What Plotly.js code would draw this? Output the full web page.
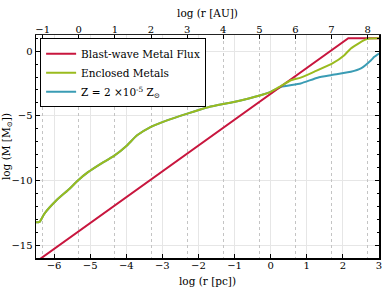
<!DOCTYPE html>
<html><head><meta charset="utf-8">
<script src="https://cdn.plot.ly/plotly-3.0.1.min.js"></script>
<style>html,body{margin:0;padding:0;background:#fff}</style>
</head><body><div id="c" style="width:390px;height:293px"></div>
<script>
var redX = [-6.5, 2.15, 3.05];
var redY = [-16.3, 1.0, 1.0];
var greenX = [-6.5, -6.4, -6.27, -5.94, -5.57, -5.34, -5.06, -4.73, -4.34, -3.98, -3.7, -3.33, -2.87, -2.31, -1.71, -1.02, -0.28, 0.0, 0.28, 0.56, 0.83, 1.2, 1.71, 2.04, 2.22, 2.59, 2.73, 3.05];
var greenY = [-13.23, -13.2, -12.58, -11.55, -10.64, -10.0, -9.36, -8.75, -8.1, -7.29, -6.51, -5.87, -5.35, -4.83, -4.32, -3.93, -3.41, -3.15, -2.7, -2.25, -2.05, -1.6, -0.95, -0.31, 0.21, 0.85, 0.98, 1.0];
var blueX = [-6.5, -6.4, -6.27, -5.94, -5.57, -5.34, -5.06, -4.73, -4.34, -3.98, -3.7, -3.33, -2.87, -2.31, -1.71, -1.02, -0.28, 0.0, 0.28, 0.83, 1.3, 1.67, 2.22, 2.5, 2.78, 2.87, 3.0];
var blueY = [-13.23, -13.2, -12.58, -11.55, -10.64, -10.0, -9.36, -8.75, -8.1, -7.29, -6.51, -5.87, -5.35, -4.83, -4.32, -3.93, -3.41, -3.15, -2.77, -2.5, -2.05, -1.86, -1.6, -1.34, -0.7, -0.44, -0.18];
var pcTicks = [-6, -5, -4, -3, -2, -1, 0, 1, 2, 3];
var auTicks = [-1, 0, 1, 2, 3, 4, 5, 6, 7, 8];
var yTicks = [0, -5, -10, -15];
var auOffset = 5.3144; // log10(206265)
var names = ['Blast-wave Metal Flux', 'Enclosed Metals', 'Z = 2 \u00d710<sup>-5</sup> Z<sub>\u2299</sub>'];

var F = 'DejaVu Serif';
var ln = {shape: 'spline', smoothing: 0.5, width: 2};
var hidden = {mode: 'lines', showlegend: false, hoverinfo: 'skip', line: {width: 0, color: 'rgba(0,0,0,0)'}};
var data = [
  {x: blueX, y: blueY, mode: 'lines', name: names[2], legendrank: 3, line: Object.assign({color: '#3a9cb4'}, ln)},
  {x: redX, y: redY, mode: 'lines', name: names[0], legendrank: 1, line: {color: '#c8163e', width: 2}},
  {x: greenX, y: greenY, mode: 'lines', name: names[1], legendrank: 2, line: Object.assign({color: '#9abb1e'}, ln)},
  Object.assign({x: [auTicks[0], auTicks[auTicks.length-1]], y: [0, 0], xaxis: 'x2'}, hidden),
  Object.assign({x: [auTicks[0], auTicks[auTicks.length-1]], y: [0, 0], xaxis: 'x3'}, hidden)
];
var xr = [-6.5, 3.0];
var auR = [xr[0] + auOffset, xr[1] + auOffset];
var layout = {
  width: 390, height: 293,
  margin: {l: 36, r: 11, t: 35, b: 35},
  paper_bgcolor: '#fff', plot_bgcolor: '#fff',
  font: {family: F, size: 10, color: '#000'},
  showlegend: true,
  legend: {x: 0.012, y: 0.985, xanchor: 'left', yanchor: 'top', bgcolor: '#fff', bordercolor: '#000', borderwidth: 1,
           font: {family: F, size: 10.5, color: '#000'}, traceorder: 'normal', tracegroupgap: 0, itemwidth: 30},
  xaxis: {range: xr, tickvals: pcTicks, ticks: 'inside', ticklen: 4, tickcolor: '#000', showgrid: true, gridcolor: '#e6e6e6', gridwidth: 1,
          zeroline: false, showline: true, linecolor: '#000', linewidth: 1.5, mirror: false, ticklabelstandoff: -3,
          title: {text: 'log (r [pc])', font: {family: F, size: 10.5}, standoff: 8}, tickfont: {family: F, size: 10}},
  xaxis2: {overlaying: 'x', side: 'top', anchor: 'free', position: 1.0, range: auR, tickvals: auTicks,
           ticks: '', showgrid: true, gridcolor: '#c4c4c4', griddash: 'dot', gridwidth: 1,
           zeroline: false, showline: false,
           title: {text: 'log (r [AU])', font: {family: F, size: 10.5}, standoff: 3}, tickfont: {family: F, size: 10}},
  xaxis3: {overlaying: 'x', side: 'top', anchor: 'y', range: auR, tickvals: auTicks, showticklabels: false,
           ticks: 'inside', ticklen: 4, tickcolor: '#000', showgrid: false, zeroline: false,
           showline: true, linecolor: '#222', linewidth: 1.5},
  yaxis: {range: [-16, 1.25], tickvals: yTicks, ticks: 'inside', ticklen: 4, tickcolor: '#000', showgrid: true, gridcolor: '#e6e6e6',
          zeroline: false, showline: true, linecolor: '#000', linewidth: 1.5, mirror: 'ticks',
          minor: {dtick: 1, ticks: 'inside', ticklen: 2, tickcolor: '#000', showgrid: false},
          title: {text: 'log (M [M<sub>\u2299</sub>])', font: {family: F, size: 10.5}, standoff: 4}, tickfont: {family: F, size: 10}}
};
Plotly.newPlot('c', data, layout, {staticPlot: true});
</script></body></html>
